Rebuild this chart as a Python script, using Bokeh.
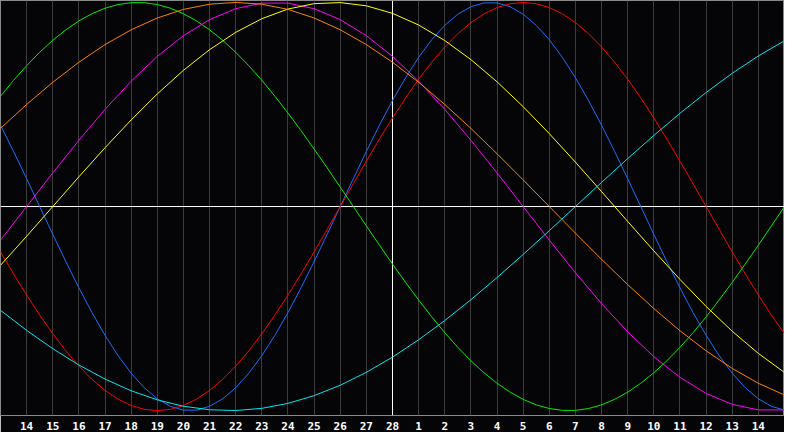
from bokeh.plotting import figure
from bokeh.models import Range1d, FixedTicker, Span
from bokeh.embed import file_html
from bokeh.resources import INLINE

# Day labels for each day shown (13 Feb .. 15 Mar), "today" = 28
day_labels = ["13", "14", "15", "16", "17", "18", "19", "20", "21", "22", "23", "24", "25", "26",
              "27", "28", "1", "2", "3", "4", "5", "6", "7", "8", "9", "10", "11", "12", "13",
              "14", "15"]
tick_days = list(range(1, 30))
today_index = 15

# Short cycles, read every half day (-1..1)
cycle_23 = [0.3984, 0.2698, 0.1362, 0.0, -0.1362, -0.2698, -0.3984, -0.5196, -0.6311, -0.7308,
            -0.8170, -0.8879, -0.9423, -0.9791, -0.9977, -0.9977, -0.9791, -0.9423, -0.8879, -0.8170,
            -0.7308, -0.6311, -0.5196, -0.3984, -0.2698, -0.1362, 0.0, 0.1362, 0.2698, 0.3984,
            0.5196, 0.6311, 0.7308, 0.8170, 0.8879, 0.9423, 0.9791, 0.9977, 0.9977, 0.9791,
            0.9423, 0.8879, 0.8170, 0.7308, 0.6311, 0.5196, 0.3984, 0.2698, 0.1362, 0.0,
            -0.1362, -0.2698, -0.3984, -0.5196, -0.6311, -0.7308, -0.8170, -0.8879, -0.9423, -0.9791,
            -0.9977]
cycle_28 = [-0.2225, -0.3303, -0.4339, -0.5320, -0.6235, -0.7071, -0.7818, -0.8467, -0.9010, -0.9439,
            -0.9749, -0.9937, -1.0, -0.9937, -0.9749, -0.9439, -0.9010, -0.8467, -0.7818, -0.7071,
            -0.6235, -0.5320, -0.4339, -0.3303, -0.2225, -0.1120, 0.0, 0.1120, 0.2225, 0.3303,
            0.4339, 0.5320, 0.6235, 0.7071, 0.7818, 0.8467, 0.9010, 0.9439, 0.9749, 0.9937,
            1.0, 0.9937, 0.9749, 0.9439, 0.9010, 0.8467, 0.7818, 0.7071, 0.6235, 0.5320,
            0.4339, 0.3303, 0.2225, 0.1120, 0.0, -0.1120, -0.2225, -0.3303, -0.4339, -0.5320,
            -0.6235]
cycle_33 = [0.5406, 0.6182, 0.6901, 0.7557, 0.8146, 0.8660, 0.9096, 0.9450, 0.9718, 0.9898,
            0.9989, 0.9989, 0.9898, 0.9718, 0.9450, 0.9096, 0.8660, 0.8146, 0.7557, 0.6901,
            0.6182, 0.5406, 0.4582, 0.3717, 0.2817, 0.1893, 0.0951, 0.0, -0.0951, -0.1893,
            -0.2817, -0.3717, -0.4582, -0.5406, -0.6182, -0.6901, -0.7557, -0.8146, -0.8660, -0.9096,
            -0.9450, -0.9718, -0.9898, -0.9989, -0.9989, -0.9898, -0.9718, -0.9450, -0.9096, -0.8660,
            -0.8146, -0.7557, -0.6901, -0.6182, -0.5406, -0.4582, -0.3717, -0.2817, -0.1893, -0.0951,
            0.0]

# Long cycles, read every day (-1..1)
cycle_38 = [-0.1646, 0.0, 0.1646, 0.3247, 0.4759, 0.6142, 0.7357, 0.8372, 0.9158, 0.9694,
            0.9966, 0.9966, 0.9694, 0.9158, 0.8372, 0.7357, 0.6142, 0.4759, 0.3247, 0.1646,
            0.0, -0.1646, -0.3247, -0.4759, -0.6142, -0.7357, -0.8372, -0.9158, -0.9694, -0.9966,
            -0.9966]
cycle_43 = [-0.2881, -0.1456, 0.0, 0.1456, 0.2881, 0.4244, 0.5517, 0.6673, 0.7686, 0.8535,
            0.9203, 0.9675, 0.9940, 0.9993, 0.9834, 0.9465, 0.8894, 0.8133, 0.7199, 0.6112,
            0.4894, 0.3572, 0.2174, 0.0730, -0.0730, -0.2174, -0.3572, -0.4894, -0.6112, -0.7199,
            -0.8133]
cycle_48 = [0.3827, 0.5, 0.6088, 0.7071, 0.7934, 0.8660, 0.9239, 0.9659, 0.9914, 1.0,
            0.9914, 0.9659, 0.9239, 0.8660, 0.7934, 0.7071, 0.6088, 0.5, 0.3827, 0.2588,
            0.1305, 0.0, -0.1305, -0.2588, -0.3827, -0.5, -0.6088, -0.7071, -0.7934, -0.8660,
            -0.9239]
cycle_53 = [-0.5085, -0.6068, -0.6966, -0.7765, -0.8456, -0.9028, -0.9473, -0.9786, -0.9960, -0.9996,
            -0.9890, -0.9646, -0.9267, -0.8757, -0.8125, -0.7379, -0.6529, -0.5586, -0.4566, -0.3482,
            -0.2349, -0.1183, 0.0, 0.1183, 0.2349, 0.3482, 0.4566, 0.5586, 0.6529, 0.7379,
            0.8125]

day_steps = list(range(len(day_labels)))
half_day_steps = [k / 2 for k in range(2 * (len(day_labels) - 1) + 1)]

series = [
    (half_day_steps, cycle_23, "#1a6eff"),
    (half_day_steps, cycle_28, "#ff0000"),
    (half_day_steps, cycle_33, "#00ee00"),
    (day_steps, cycle_38, "#ff00ff"),
    (day_steps, cycle_43, "#ffff00"),
    (day_steps, cycle_48, "#ff8000"),
    (day_steps, cycle_53, "#00e8f0"),
]

p = figure(width=784, height=432, output_backend="svg", toolbar_location=None,
           x_range=Range1d(0, len(day_labels) - 1), y_range=Range1d(-1.024, 1.0095),
           min_border_left=0, min_border_right=0, min_border_top=0, min_border_bottom=0,
           background_fill_color="#050508", border_fill_color="#050508")

p.outline_line_color = "#8a8a8a"
p.outline_line_width = 1

p.yaxis.visible = False
p.ygrid.visible = False

p.xaxis.ticker = FixedTicker(ticks=tick_days)
p.xaxis.major_label_overrides = {i: day_labels[i] for i in tick_days}
p.xaxis.axis_line_color = None
p.xaxis.major_tick_line_color = None
p.xaxis.minor_tick_line_color = None
p.xaxis.major_tick_out = 0
p.xaxis.major_tick_in = 0
p.xaxis.major_label_standoff = 6
p.xaxis.major_label_text_color = "#ffffff"
p.xaxis.major_label_text_font = "DejaVu Sans Mono"
p.xaxis.major_label_text_font_style = "bold"
p.xaxis.major_label_text_font_size = "11px"

p.xgrid.grid_line_color = "#3c3c3c"
p.xgrid.grid_line_width = 1

p.add_layout(Span(location=today_index, dimension="height", line_color="#ffffff",
                  line_width=1, level="underlay"))
p.add_layout(Span(location=0, dimension="width", line_color="#ffffff",
                  line_width=1, level="underlay"))

for xs, vals, col in series:
    p.line(xs, vals, line_color=col, line_width=1)

open("out.html", "w").write(file_html(p, INLINE))
